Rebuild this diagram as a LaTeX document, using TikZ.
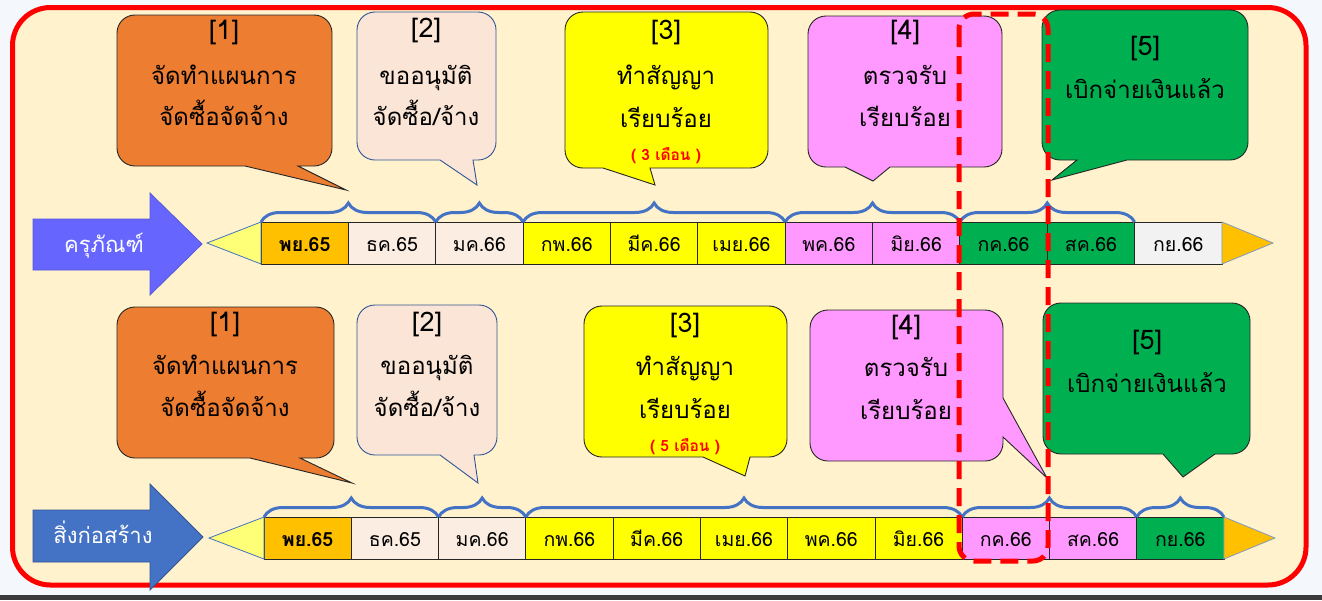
\documentclass[tikz,border=0pt]{standalone}
\usepackage{fontspec}
\newfontfamily\thai[Script=Thai]{Loma}
\usetikzlibrary{decorations.pathreplacing}
\definecolor{cream}{HTML}{FFF2CC}
\definecolor{corange}{HTML}{ED7D31}
\definecolor{cpeach}{HTML}{FBE5D6}
\definecolor{cellpeach}{HTML}{FCEDE2}
\definecolor{cyellow}{HTML}{FFFF00}
\definecolor{cpink}{HTML}{FF99FF}
\definecolor{cgreen}{HTML}{00B050}
\definecolor{cgold}{HTML}{FFC000}
\definecolor{cgray}{HTML}{F2F2F2}
\definecolor{bblue}{HTML}{4472C4}
\definecolor{cviolet}{HTML}{6666FF}
\definecolor{cline}{HTML}{262626}
\definecolor{bgc}{HTML}{F4F7FB}
\definecolor{darkbar}{HTML}{3B3B3B}
\definecolor{ltyellow}{HTML}{FFFF77}
\definecolor{cnavy}{HTML}{2F5597}
\definecolor{cframe}{HTML}{FF0000}
% bubble with tail on the bottom edge: style, x1,y1,x2,y2, tail base a,b, apex x,y
\newcommand\bubbleb[9]{%
\draw[#1] ({#2+18},#3) .. controls ({#2+8},#3) and (#2,{#3+8}) .. (#2,{#3+18})
 -- (#2,{#5-18}) .. controls (#2,{#5-8}) and ({#2+8},#5) .. ({#2+18},#5)
 -- (#6,#5) -- (#8,#9) -- (#7,#5)
 -- ({#4-18},#5) .. controls ({#4-8},#5) and (#4,{#5-8}) .. (#4,{#5-18})
 -- (#4,{#3+18}) .. controls (#4,{#3+8}) and ({#4-8},#3) .. ({#4-18},#3) -- cycle;}
% bubble with tail on the right edge: style, x1,y1,x2,y2, tail base ya,yb, apex x,y
\newcommand\bubbler[9]{%
\draw[#1] ({#2+18},#3) .. controls ({#2+8},#3) and (#2,{#3+8}) .. (#2,{#3+18})
 -- (#2,{#5-18}) .. controls (#2,{#5-8}) and ({#2+8},#5) .. ({#2+18},#5)
 -- ({#4-18},#5) .. controls ({#4-8},#5) and (#4,{#5-8}) .. (#4,{#5-18})
 -- (#4,#7) -- (#8,#9) -- (#4,#6)
 -- (#4,{#3+18}) .. controls (#4,{#3+8}) and ({#4-8},#3) .. ({#4-18},#3) -- cycle;}
\begin{document}
\begin{tikzpicture}[x=1pt,y=-1pt,
  bub/.style={draw=cline, line width=0.9pt},
  num/.style={font=\thai\fontsize{27}{29}\selectfont, inner sep=0, anchor=base},
  txt/.style={font=\thai\fontsize{24}{26}\selectfont, inner sep=0, anchor=base},
  rtxt/.style={font=\thai\bfseries\fontsize{15.5}{17}\selectfont, text=red, inner sep=0, anchor=base},
  arrtxt/.style={font=\thai\fontsize{22}{24}\selectfont, text=white, inner sep=0, anchor=base},
  cell/.style={draw=cline, line width=0.8pt, minimum height=42pt, inner sep=0, outer sep=0,
     anchor=west, text height=16pt, text depth=0pt, font=\thai\fontsize{19.5}{21}\selectfont},
  brc/.style={decorate, decoration={brace, amplitude=19pt}, draw=bblue, line width=3pt},
  tri/.style={draw=bblue, line width=0.8pt}]
\useasboundingbox (0,0) rectangle (1322,600);
\fill[bgc] (0,0) rectangle (1322,600);
\fill[darkbar] (0,595) rectangle (1322,600);
\draw[cframe, line width=5pt, fill=cream, rounded corners=38pt] (12.5,7.5) rectangle (1306,585);

% ---------- top row callouts
\bubbleb{bub, fill=corange}{117}{15}{332}{166}{245}{298}{346}{190}
\bubbleb{bub, fill=cpeach, draw=cnavy}{357}{12}{496}{160}{440}{473}{477}{185}
\bubbleb{bub, fill=cyellow}{565}{12}{768}{168}{603}{650}{655}{185}
\bubbleb{bub, fill=cpink}{808}{16}{1002}{167}{845}{890}{873}{181}
\bubbleb{bub, fill=cgreen}{1042}{10}{1248}{160}{1077}{1127}{1052}{180}

\node[num] (u1n) at (224,39) {[1]};
\node[txt] (u1a) at (224,84) {จัดทำแผนการ};
\node[txt] (u1b) at (224,125) {จัดซื้อจัดจ้าง};
\node[num] (u2n) at (426,37) {[2]};
\node[txt] (u2a) at (426,84) {ขออนุมัติ};
\node[txt] (u2b) at (426,125) {จัดซื้อ/จ้าง};
\node[num] (u3n) at (666,39) {[3]};
\node[txt] (u3a) at (666,84) {ทำสัญญา};
\node[txt] (u3b) at (666,127) {เรียบร้อย};
\node[rtxt] (u3c) at (666,160) {( 3 เดือน )};
\node[num] (u4n) at (905,39) {[4]};
\node[txt] (u4a) at (905,84) {ตรวจรับ};
\node[txt] (u4b) at (905,126) {เรียบร้อย};
\node[num] (u5n) at (1145,55) {[5]};
\node[txt] (u5a) at (1145,98) {เบิกจ่ายเงินแล้ว};

% ---------- bottom row callouts
\bubbleb{bub, fill=corange}{117}{307}{334}{458}{250}{300}{352}{483}
\bubbleb{bub, fill=cpeach, draw=cnavy}{357}{305}{497}{455}{440}{474}{478}{483}
\bubbleb{bub, fill=cyellow}{584}{306}{787}{457}{703}{750}{745}{476}
\bubbler{bub, fill=cpink}{810}{310}{1003}{461}{398}{437}{1047}{478}
\bubbleb{bub, fill=cgreen}{1043}{303}{1250}{454}{1163}{1215}{1183}{477}

\node[num] (l1n) at (225,331) {[1]};
\node[txt] (l1a) at (225,374) {จัดทำแผนการ};
\node[txt] (l1b) at (225,416) {จัดซื้อจัดจ้าง};
\node[num] (l2n) at (427,331) {[2]};
\node[txt] (l2a) at (427,374) {ขออนุมัติ};
\node[txt] (l2b) at (427,416) {จัดซื้อ/จ้าง};
\node[num] (l3n) at (685,332) {[3]};
\node[txt] (l3a) at (685,375) {ทำสัญญา};
\node[txt] (l3b) at (685,418) {เรียบร้อย};
\node[rtxt] (l3c) at (685,451) {( 5 เดือน )};
\node[num] (l4n) at (906,334) {[4]};
\node[txt] (l4a) at (906,376) {ตรวจรับ};
\node[txt] (l4b) at (906,419) {เรียบร้อย};
\node[num] (l5n) at (1147,349) {[5]};
\node[txt] (l5a) at (1147,392) {เบิกจ่ายเงินแล้ว};

% ---------- big arrows
\draw[fill=cviolet, draw=cviolet!85!black, line width=0.8pt]
  (33,219) -- (150,219) -- (150,193) -- (202,244) -- (150,295) -- (150,270) -- (33,270) -- cycle;
\node[arrtxt] (ak) at (104,252) {ครุภัณฑ์};
\draw[fill=bblue, draw=cnavy, line width=0.8pt]
  (33,510) -- (150,510) -- (150,484) -- (203,537) -- (150,590) -- (150,562) -- (33,562) -- cycle;
\node[arrtxt] (as) at (103,543) {สิ่งก่อสร้าง};

% ---------- top timeline
\node[cell, minimum width=87.36pt, fill=cgold] (t1) at (261,243) {\bfseries พย.65};
\node[cell, minimum width=87.36pt, fill=cellpeach] (t2) at (t1.east) {ธค.65};
\node[cell, minimum width=87.36pt, fill=cellpeach] (t3) at (t2.east) {มค.66};
\node[cell, minimum width=87.36pt, fill=cyellow] (t4) at (t3.east) {กพ.66};
\node[cell, minimum width=87.36pt, fill=cyellow] (t5) at (t4.east) {มีค.66};
\node[cell, minimum width=87.36pt, fill=cyellow] (t6) at (t5.east) {เมย.66};
\node[cell, minimum width=87.36pt, fill=cpink] (t7) at (t6.east) {พค.66};
\node[cell, minimum width=87.36pt, fill=cpink] (t8) at (t7.east) {มิย.66};
\node[cell, minimum width=87.36pt, fill=cgreen] (t9) at (t8.east) {กค.66};
\node[cell, minimum width=87.36pt, fill=cgreen] (t10) at (t9.east) {สค.66};
\node[cell, minimum width=87.36pt, fill=cgray] (t11) at (t10.east) {กย.66};
\coordinate (tl) at (207,243);
\coordinate (tr) at (1273,243);
\draw[tri, fill=ltyellow] (tl) -- (t1.north west) -- (t1.south west) -- cycle;
\draw[tri, fill=cgold, draw=cnavy!60] (t11.north east) -- (tr) -- (t11.south east) -- cycle;
\draw[brc] (t1.north west) -- (t2.north east);
\draw[brc] (t3.north west) -- (t3.north east);
\draw[brc] (t4.north west) -- (t6.north east);
\draw[brc] (t7.north west) -- (t8.north east);
\draw[brc] (t9.north west) -- (t10.north east);

% ---------- bottom timeline
\node[cell, minimum width=87.27pt, fill=cgold] (b1) at (264,538) {\bfseries พย.65};
\node[cell, minimum width=87.27pt, fill=cellpeach] (b2) at (b1.east) {ธค.65};
\node[cell, minimum width=87.27pt, fill=cellpeach] (b3) at (b2.east) {มค.66};
\node[cell, minimum width=87.27pt, fill=cyellow] (b4) at (b3.east) {กพ.66};
\node[cell, minimum width=87.27pt, fill=cyellow] (b5) at (b4.east) {มีค.66};
\node[cell, minimum width=87.27pt, fill=cyellow] (b6) at (b5.east) {เมย.66};
\node[cell, minimum width=87.27pt, fill=cyellow] (b7) at (b6.east) {พค.66};
\node[cell, minimum width=87.27pt, fill=cyellow] (b8) at (b7.east) {มิย.66};
\node[cell, minimum width=87.27pt, fill=cpink] (b9) at (b8.east) {กค.66};
\node[cell, minimum width=87.27pt, fill=cpink] (b10) at (b9.east) {สค.66};
\node[cell, minimum width=87.27pt, fill=cgreen] (b11) at (b10.east) {กย.66};
\coordinate (bl) at (209,538);
\coordinate (br) at (1275,538);
\draw[tri, fill=ltyellow] (bl) -- (b1.north west) -- (b1.south west) -- cycle;
\draw[tri, fill=cgold, draw=cnavy!60] (b11.north east) -- (br) -- (b11.south east) -- cycle;
\draw[brc] (b1.north west) -- (b2.north east);
\draw[brc] (b3.north west) -- (b3.north east);
\draw[brc] (b4.north west) -- (b8.north east);
\draw[brc] (b9.north west) -- (b10.north east);
\draw[brc] (b11.north west) -- (b11.north east);

% ---------- highlight
\draw[cframe, line width=5pt, dash pattern=on 18pt off 9pt, rounded corners=15pt]
  (959,14) rectangle (1048,561);
\end{tikzpicture}
\end{document}
